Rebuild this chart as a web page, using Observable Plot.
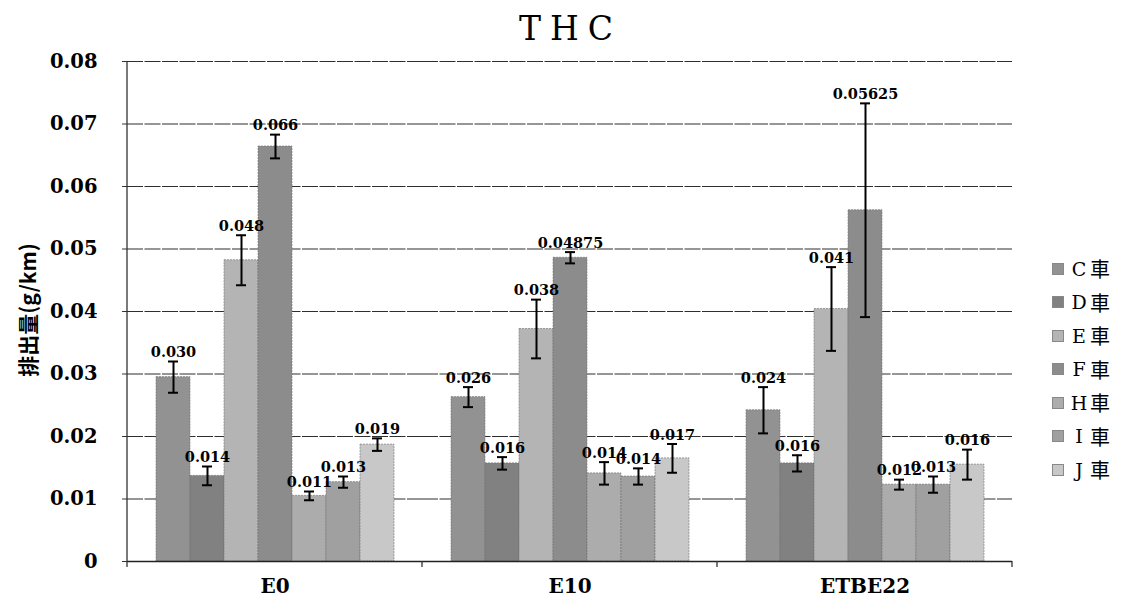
<!DOCTYPE html>
<html>
<head>
<meta charset="utf-8">
<script src="https://cdn.jsdelivr.net/npm/d3@7"></script>
<script src="https://cdn.jsdelivr.net/npm/@observablehq/plot@0.6"></script>
<style>
  body { margin: 0; background: #fff; }
  #wrap { position: relative; width: 1132px; height: 615px; overflow: hidden; font-family: "DejaVu Serif", serif; color: #000; }
  #title { position: absolute; left: 0; top: 9px; width: 1132px; text-align: center; font-size: 33px; letter-spacing: 9px; padding-left: 9px; box-sizing: border-box; }
  #ytitle { position: absolute; left: 27px; top: 310px; transform: translate(-50%, -50%) rotate(-90deg); white-space: nowrap; font-family: "Noto Sans CJK JP", sans-serif; font-weight: bold; font-size: 21px; }
  #legend { position: absolute; left: 1052px; top: 252px; }
  .row { height: 33.5px; display: flex; align-items: center; font-size: 19px; }
  .sw { width: 10px; height: 10px; margin-right: 4px; }
  .lt { display: inline-block; width: 22px; text-align: center; font-family: "DejaVu Serif", serif; }
  .kj { font-family: "Noto Sans CJK JP", sans-serif; font-size: 20px; }
  #chart { position: absolute; left: 0; top: 0; }
</style>
</head>
<body>
<div id="wrap">
  <div id="chart"></div>
  <div id="title">THC</div>
  <div id="ytitle">排出量(g/km)</div>
  <div id="legend"></div>
</div>
<script>
// ---- data ----
const groups = ["E0", "E10", "ETBE22"];
const cars = ["C", "D", "E", "F", "H", "I", "J"];
const carNames = ["C車", "D車", "E車", "F車", "H車", "I車", "J車"];
const yTicks = [0, 0.01, 0.02, 0.03, 0.04, 0.05, 0.06, 0.07, 0.08];

const valuesE0 = [0.0295, 0.0137, 0.0482, 0.0664, 0.0105, 0.0127, 0.0187];
const errorsE0 = [0.0025, 0.0015, 0.0040, 0.0019, 0.0007, 0.0009, 0.0010];
const labelsE0 = ["0.030", "0.014", "0.048", "0.066", "0.011", "0.013", "0.019"];

const valuesE10 = [0.0263, 0.0157, 0.0372, 0.0486, 0.0141, 0.0136, 0.0165];
const errorsE10 = [0.0016, 0.0010, 0.0047, 0.0009, 0.0018, 0.0013, 0.0023];
const labelsE10 = ["0.026", "0.016", "0.038", "0.04875", "0.014", "0.014", "0.017"];

const valuesETBE22 = [0.0242, 0.0157, 0.0404, 0.0562, 0.0123, 0.0123, 0.0155];
const errorsETBE22 = [0.0037, 0.0013, 0.0067, 0.0171, 0.0008, 0.0013, 0.0024];
const labelsETBE22 = ["0.024", "0.016", "0.041", "0.05625", "0.012", "0.013", "0.016"];

// ---- style ----
const carColors = ["#929292", "#818181", "#b4b4b4", "#8c8c8c", "#acacac", "#a0a0a0", "#c8c8c8"];

// ---- table built from arrays ----
const series = [
  [valuesE0, errorsE0, labelsE0],
  [valuesE10, errorsE10, labelsE10],
  [valuesETBE22, errorsETBE22, labelsETBE22]
];
const rows = [];
groups.forEach((g, gi) => {
  cars.forEach((c, ci) => {
    rows.push({group: g, car: c, value: series[gi][0][ci], err: series[gi][1][ci], label: series[gi][2][ci]});
  });
});

const font = "DejaVu Serif";
const plot = Plot.plot({
  width: 1132,
  height: 615,
  marginLeft: 127,
  marginRight: 120,
  marginTop: 61,
  marginBottom: 54,
  style: {background: "transparent", color: "#000"},
  fx: {domain: groups, padding: 0, axis: null},
  x: {domain: cars, paddingInner: 0, paddingOuter: 0.77, axis: null},
  y: {domain: [0, 0.08], axis: null},
  color: {domain: cars, range: carColors},
  marks: [
    Plot.ruleY(yTicks.slice(1), {stroke: "#2e2e2e", strokeWidth: 1.1, strokeDasharray: "16,1.5"}),
    Plot.barY(rows, {fx: "group", x: "car", y: "value", fill: "car", stroke: "#6e6e6e", strokeWidth: 0.6, strokeDasharray: "2,1"}),
    Plot.ruleY([0], {stroke: "#222", strokeWidth: 1.3}),
    Plot.ruleX(rows, {fx: "group", x: "car", y1: d => d.value - d.err, y2: d => d.value + d.err, stroke: "#000", strokeWidth: 2}),
    Plot.tickY(rows, {fx: "group", x: "car", y: d => d.value + d.err, stroke: "#000", strokeWidth: 2, insetLeft: 12, insetRight: 12}),
    Plot.tickY(rows, {fx: "group", x: "car", y: d => d.value - d.err, stroke: "#000", strokeWidth: 2, insetLeft: 12, insetRight: 12}),
    Plot.text(rows, {fx: "group", x: "car", y: d => d.value + d.err, text: "label", dy: -9, fontFamily: font, fontSize: 14.5, fontWeight: "bold", fill: "#000"}),
    Plot.axisY(yTicks, {tickFormat: d => d === 0 ? "0" : d.toFixed(2), tickSize: 5, tickPadding: 25, fontSize: 19.5, fontWeight: "bold", fontFamily: font, label: null, stroke: "#333"}),
    Plot.axisFx({anchor: "bottom", tickSize: 0, tickPadding: 17, fontSize: 20, fontWeight: "bold", fontFamily: font, label: null})
  ]
});
document.getElementById("chart").appendChild(plot);

// axis line and group boundary ticks from the library's scales
const svg = d3.select(plot);
const fxs = plot.scale("fx");
const ys = plot.scale("y");
const y0 = ys.apply(0), yTop = ys.apply(0.08);
const xLeft = fxs.apply(groups[0]);
svg.append("line").attr("x1", xLeft).attr("x2", xLeft).attr("y1", yTop).attr("y2", y0)
  .attr("stroke", "#333").attr("stroke-width", 1.3);
const bounds = groups.map(g => fxs.apply(g)).concat([fxs.apply(groups[groups.length - 1]) + fxs.bandwidth]);
bounds.forEach(bx => {
  svg.append("line").attr("x1", bx).attr("x2", bx).attr("y1", y0).attr("y2", y0 + 6)
    .attr("stroke", "#333").attr("stroke-width", 1.3);
});

// legend
const legend = d3.select("#legend");
cars.forEach((c, i) => {
  const r = legend.append("div").attr("class", "row");
  r.append("div").attr("class", "sw").style("background", carColors[i]).style("border", "1px solid #888");
  r.append("span").attr("class", "lt").text(carNames[i].slice(0, 1));
  r.append("span").attr("class", "kj").text(carNames[i].slice(1));
});
</script>
</body>
</html>
